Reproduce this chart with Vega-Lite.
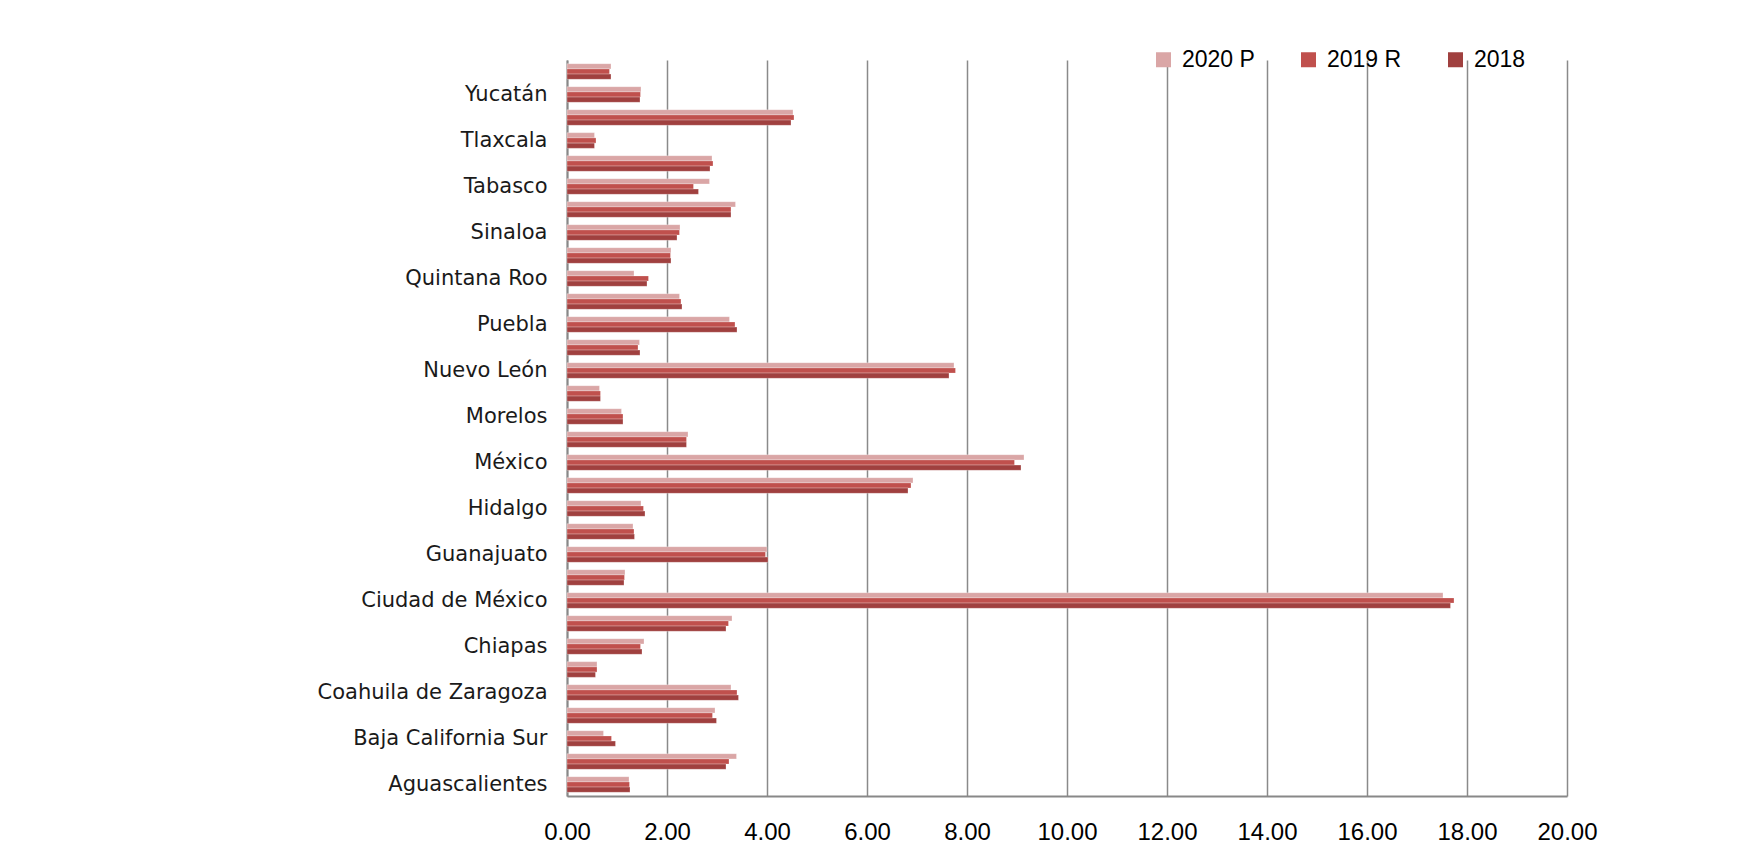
{
  "$schema": "https://vega.github.io/schema/vega-lite/v6.json",
  "width": 1000,
  "height": 736,
  "autosize": {"type": "none"},
  "padding": {"left": 567, "top": 60, "right": 191, "bottom": 48},
  "background": "white",
  "data": {
    "values": [
      {"estado": "Aguascalientes", "serie": "2020 P", "valor": 1.24},
      {"estado": "Aguascalientes", "serie": "2019 R", "valor": 1.25},
      {"estado": "Aguascalientes", "serie": "2018", "valor": 1.26},
      {"estado": "Baja California", "serie": "2020 P", "valor": 3.39},
      {"estado": "Baja California", "serie": "2019 R", "valor": 3.24},
      {"estado": "Baja California", "serie": "2018", "valor": 3.18},
      {"estado": "Baja California Sur", "serie": "2020 P", "valor": 0.73},
      {"estado": "Baja California Sur", "serie": "2019 R", "valor": 0.89},
      {"estado": "Baja California Sur", "serie": "2018", "valor": 0.97},
      {"estado": "Campeche", "serie": "2020 P", "valor": 2.96},
      {"estado": "Campeche", "serie": "2019 R", "valor": 2.91},
      {"estado": "Campeche", "serie": "2018", "valor": 2.99},
      {"estado": "Coahuila de Zaragoza", "serie": "2020 P", "valor": 3.28},
      {"estado": "Coahuila de Zaragoza", "serie": "2019 R", "valor": 3.40},
      {"estado": "Coahuila de Zaragoza", "serie": "2018", "valor": 3.43},
      {"estado": "Colima", "serie": "2020 P", "valor": 0.60},
      {"estado": "Colima", "serie": "2019 R", "valor": 0.60},
      {"estado": "Colima", "serie": "2018", "valor": 0.57},
      {"estado": "Chiapas", "serie": "2020 P", "valor": 1.54},
      {"estado": "Chiapas", "serie": "2019 R", "valor": 1.47},
      {"estado": "Chiapas", "serie": "2018", "valor": 1.50},
      {"estado": "Chihuahua", "serie": "2020 P", "valor": 3.30},
      {"estado": "Chihuahua", "serie": "2019 R", "valor": 3.23},
      {"estado": "Chihuahua", "serie": "2018", "valor": 3.18},
      {"estado": "Ciudad de México", "serie": "2020 P", "valor": 17.52},
      {"estado": "Ciudad de México", "serie": "2019 R", "valor": 17.74},
      {"estado": "Ciudad de México", "serie": "2018", "valor": 17.67},
      {"estado": "Durango", "serie": "2020 P", "valor": 1.16},
      {"estado": "Durango", "serie": "2019 R", "valor": 1.15},
      {"estado": "Durango", "serie": "2018", "valor": 1.14},
      {"estado": "Guanajuato", "serie": "2020 P", "valor": 4.00},
      {"estado": "Guanajuato", "serie": "2019 R", "valor": 3.97},
      {"estado": "Guanajuato", "serie": "2018", "valor": 4.02},
      {"estado": "Guerrero", "serie": "2020 P", "valor": 1.32},
      {"estado": "Guerrero", "serie": "2019 R", "valor": 1.34},
      {"estado": "Guerrero", "serie": "2018", "valor": 1.35},
      {"estado": "Hidalgo", "serie": "2020 P", "valor": 1.48},
      {"estado": "Hidalgo", "serie": "2019 R", "valor": 1.53},
      {"estado": "Hidalgo", "serie": "2018", "valor": 1.56},
      {"estado": "Jalisco", "serie": "2020 P", "valor": 6.92},
      {"estado": "Jalisco", "serie": "2019 R", "valor": 6.88},
      {"estado": "Jalisco", "serie": "2018", "valor": 6.82},
      {"estado": "México", "serie": "2020 P", "valor": 9.14},
      {"estado": "México", "serie": "2019 R", "valor": 8.95},
      {"estado": "México", "serie": "2018", "valor": 9.08},
      {"estado": "Michoacán de Ocampo", "serie": "2020 P", "valor": 2.42},
      {"estado": "Michoacán de Ocampo", "serie": "2019 R", "valor": 2.39},
      {"estado": "Michoacán de Ocampo", "serie": "2018", "valor": 2.39},
      {"estado": "Morelos", "serie": "2020 P", "valor": 1.09},
      {"estado": "Morelos", "serie": "2019 R", "valor": 1.12},
      {"estado": "Morelos", "serie": "2018", "valor": 1.12},
      {"estado": "Nayarit", "serie": "2020 P", "valor": 0.65},
      {"estado": "Nayarit", "serie": "2019 R", "valor": 0.67},
      {"estado": "Nayarit", "serie": "2018", "valor": 0.67},
      {"estado": "Nuevo León", "serie": "2020 P", "valor": 7.74},
      {"estado": "Nuevo León", "serie": "2019 R", "valor": 7.77},
      {"estado": "Nuevo León", "serie": "2018", "valor": 7.64},
      {"estado": "Oaxaca", "serie": "2020 P", "valor": 1.45},
      {"estado": "Oaxaca", "serie": "2019 R", "valor": 1.42},
      {"estado": "Oaxaca", "serie": "2018", "valor": 1.46},
      {"estado": "Puebla", "serie": "2020 P", "valor": 3.25},
      {"estado": "Puebla", "serie": "2019 R", "valor": 3.36},
      {"estado": "Puebla", "serie": "2018", "valor": 3.40},
      {"estado": "Querétaro", "serie": "2020 P", "valor": 2.25},
      {"estado": "Querétaro", "serie": "2019 R", "valor": 2.28},
      {"estado": "Querétaro", "serie": "2018", "valor": 2.30},
      {"estado": "Quintana Roo", "serie": "2020 P", "valor": 1.34},
      {"estado": "Quintana Roo", "serie": "2019 R", "valor": 1.63},
      {"estado": "Quintana Roo", "serie": "2018", "valor": 1.60},
      {"estado": "San Luis Potosí", "serie": "2020 P", "valor": 2.08},
      {"estado": "San Luis Potosí", "serie": "2019 R", "valor": 2.07},
      {"estado": "San Luis Potosí", "serie": "2018", "valor": 2.08},
      {"estado": "Sinaloa", "serie": "2020 P", "valor": 2.26},
      {"estado": "Sinaloa", "serie": "2019 R", "valor": 2.25},
      {"estado": "Sinaloa", "serie": "2018", "valor": 2.20},
      {"estado": "Sonora", "serie": "2020 P", "valor": 3.37},
      {"estado": "Sonora", "serie": "2019 R", "valor": 3.28},
      {"estado": "Sonora", "serie": "2018", "valor": 3.28},
      {"estado": "Tabasco", "serie": "2020 P", "valor": 2.85},
      {"estado": "Tabasco", "serie": "2019 R", "valor": 2.53},
      {"estado": "Tabasco", "serie": "2018", "valor": 2.63},
      {"estado": "Tamaulipas", "serie": "2020 P", "valor": 2.90},
      {"estado": "Tamaulipas", "serie": "2019 R", "valor": 2.92},
      {"estado": "Tamaulipas", "serie": "2018", "valor": 2.86},
      {"estado": "Tlaxcala", "serie": "2020 P", "valor": 0.55},
      {"estado": "Tlaxcala", "serie": "2019 R", "valor": 0.58},
      {"estado": "Tlaxcala", "serie": "2018", "valor": 0.55},
      {"estado": "Veracruz de Ignacio de la Llave", "serie": "2020 P", "valor": 4.52},
      {"estado": "Veracruz de Ignacio de la Llave", "serie": "2019 R", "valor": 4.54},
      {"estado": "Veracruz de Ignacio de la Llave", "serie": "2018", "valor": 4.48},
      {"estado": "Yucatán", "serie": "2020 P", "valor": 1.48},
      {"estado": "Yucatán", "serie": "2019 R", "valor": 1.47},
      {"estado": "Yucatán", "serie": "2018", "valor": 1.46},
      {"estado": "Zacatecas", "serie": "2020 P", "valor": 0.88},
      {"estado": "Zacatecas", "serie": "2019 R", "valor": 0.85},
      {"estado": "Zacatecas", "serie": "2018", "valor": 0.88}
    ]
  },
  "mark": {"type": "bar", "stroke": "white", "strokeWidth": 0.35, "strokeOpacity": 0.8},
  "encoding": {
    "y": {
      "field": "estado",
      "type": "nominal",
      "sort": ["Zacatecas", "Yucatán", "Veracruz de Ignacio de la Llave", "Tlaxcala", "Tamaulipas", "Tabasco", "Sonora", "Sinaloa", "San Luis Potosí", "Quintana Roo", "Querétaro", "Puebla", "Oaxaca", "Nuevo León", "Nayarit", "Morelos", "Michoacán de Ocampo", "México", "Jalisco", "Hidalgo", "Guerrero", "Guanajuato", "Durango", "Ciudad de México", "Chihuahua", "Chiapas", "Colima", "Coahuila de Zaragoza", "Campeche", "Baja California Sur", "Baja California", "Aguascalientes"],
      "scale": {"paddingInner": 0.32, "paddingOuter": 0.16},
      "axis": {
        "title": null,
        "ticks": false,
        "labelPadding": 20,
        "labelFont": "DejaVu Sans",
        "labelFontSize": 21,
        "labelColor": "#1a1a1a",
        "labelLimit": 400,
        "domainColor": "#888888",
        "domainWidth": 2,
        "labelExpr": "indexof(['Aguascalientes','Baja California Sur','Coahuila de Zaragoza','Chiapas','Ciudad de México','Guanajuato','Hidalgo','México','Morelos','Nuevo León','Puebla','Quintana Roo','Sinaloa','Tabasco','Tlaxcala','Yucatán'], datum.value) >= 0 ? datum.value : ''"
      }
    },
    "yOffset": {
      "field": "serie",
      "type": "nominal",
      "sort": ["2020 P", "2019 R", "2018"],
      "scale": {"paddingInner": 0, "paddingOuter": 0}
    },
    "x": {
      "field": "valor",
      "type": "quantitative",
      "scale": {"domain": [0, 20], "nice": false, "zero": true},
      "axis": {
        "title": null,
        "values": [0, 2, 4, 6, 8, 10, 12, 14, 16, 18, 20],
        "format": ".2f",
        "ticks": false,
        "grid": true,
        "gridColor": "#8a8a8a",
        "gridWidth": 1.5,
        "domainColor": "#888888",
        "domainWidth": 2,
        "labelPadding": 24,
        "labelFont": "Liberation Sans",
        "labelFontSize": 24,
        "labelColor": "#000000",
        "labelFlush": false
      }
    },
    "color": {
      "field": "serie",
      "type": "nominal",
      "scale": {"domain": ["2020 P", "2019 R", "2018"], "range": ["#DAA6A6", "#C0504D", "#A0403F"]},
      "legend": {
        "title": null,
        "orient": "none",
        "direction": "horizontal",
        "legendX": 585,
        "legendY": -12,
        "symbolType": "square",
        "symbolSize": 225,
        "symbolStrokeWidth": 0,
        "labelFont": "Liberation Sans",
        "labelFontSize": 23,
        "labelColor": "#000000",
        "labelOffset": 7,
        "columnPadding": 42,
        "padding": 0
      }
    }
  },
  "config": {
    "view": {"stroke": null},
    "axis": {"gridCap": "butt"}
  }
}
